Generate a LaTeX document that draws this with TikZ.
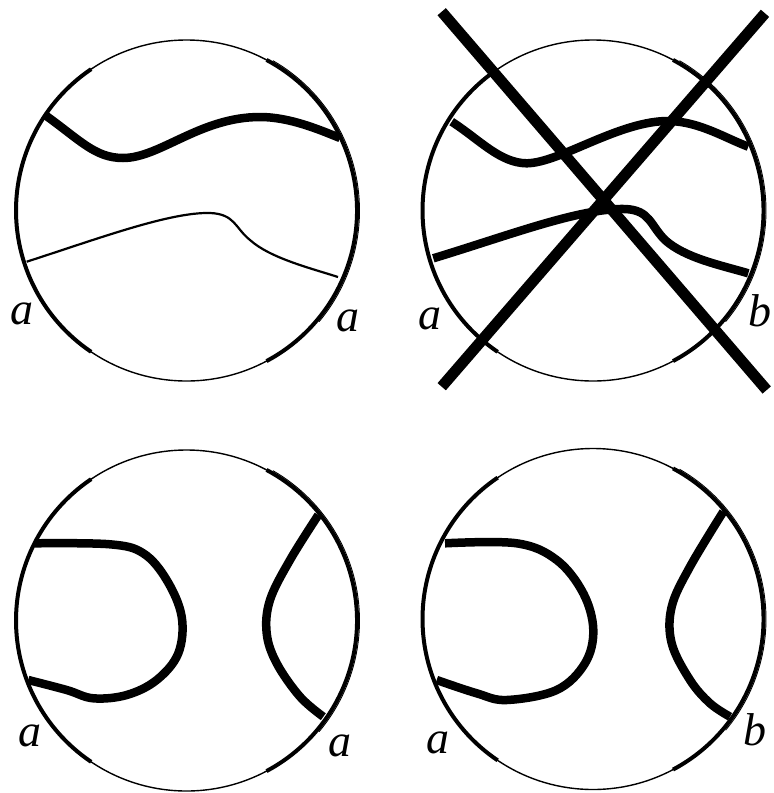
\documentclass[tikz,border=0pt]{standalone}
\usepackage{fontspec}
\setmainfont{Liberation Serif}
\begin{document}
\begin{tikzpicture}[x=1pt,y=-1pt,
  rim/.style={line width=1.4pt},
  rimthick/.style={line width=4pt},
  rimdouble/.style={line width=0.9pt},
  strand/.style={line width=8.5pt},
  thinstrand/.style={line width=2.2pt},
  cross/.style={line width=11pt},
  lbl/.style={font=\fontsize{46}{50}\selectfont\itshape,inner sep=0pt}]
\useasboundingbox (0,0) rectangle (774,793);
% centres
\coordinate (c1) at (186.5,210.5);
\coordinate (c2) at (593,210.5);
\coordinate (c3) at (186.5,620.5);
\coordinate (c4) at (593,619);
% rims
\foreach \c in {c1,c2,c3,c4}{
  \draw[rim] (\c) circle[radius=170.5];
  \draw[rimthick] ([shift={(124:170.5)}]\c) arc[start angle=124,end angle=236,radius=170.5];
  \draw[rimthick] ([shift={(-62:170.5)}]\c) arc[start angle=-62,end angle=62,radius=170.5];
  \draw[rimdouble] ([shift={(-60:173)}]\c) arc[start angle=-60,end angle=40,radius=173];
}
% circle 1
\draw[strand] (45,115) .. controls (80,140) and (95,158) .. (123,158)
  .. controls (160,158) and (200,117) .. (260,117)
  .. controls (290,117) and (320,130) .. (340,138);
\draw[thinstrand] (26.7,261.7) .. controls (100,238) and (170,212) .. (210,213)
  .. controls (235,214) and (235,228) .. (250,240)
  .. controls (270,258) and (310,268) .. (338,277);
\node[lbl] (l1a) at (21.7,314) {a};
\node[lbl] (l1b) at (348,321) {a};
% circle 2
\draw[strand] (451.7,121.7) .. controls (480,140) and (500,163) .. (526.7,163.3)
  .. controls (560,163) and (620,120) .. (670,121)
  .. controls (700,122) and (725,138) .. (748.3,146.7);
\draw[strand] (433.3,258.3) .. controls (510,235) and (580,208) .. (625,209)
  .. controls (650,210) and (650,225) .. (665,240)
  .. controls (685,258) and (720,265) .. (748.3,273.3);
\coordinate (x1s) at (441.7,11.7);
\coordinate (x1e) at (766.7,390);
\coordinate (x2s) at (765,13.3);
\coordinate (x2e) at (441.7,386.7);
\draw[cross] (x1s) -- (x1e);
\draw[cross] (x2s) -- (x2e);
\node[lbl] (l2a) at (430,319) {a};
\node[lbl] (l2b) at (760,311) {b};
% circle 3
\draw[strand] plot[smooth,tension=0.6] coordinates {(35,543.3) (110,544.3) (143.3,553.3) (166.7,580) (181.7,616.7) (178.3,653.3) (156.7,680) (126.7,695) (93.3,698.3) (66.7,690) (28.3,680)};
\draw[strand] plot[smooth,tension=0.6] coordinates {(318.3,515) (290,560) (270,600) (266.7,633.3) (276.7,663.3) (300,696.7) (323.3,716.7)};
\node[lbl] (l3a) at (30,736) {a};
\node[lbl] (l3b) at (340,746) {a};
% circle 4
\draw[strand] plot[smooth,tension=0.6] coordinates {(445,543.3) (516.7,543.3) (556.7,560) (583.3,593.3) (593.3,630) (585,663.3) (556.7,690) (506.7,700) (476.7,693.3) (436.7,680)};
\draw[strand] plot[smooth,tension=0.6] coordinates {(723.3,511.7) (690,566.7) (671.7,606.7) (671.7,643.3) (690,680) (710,703.3) (730,716.7)};
\node[lbl] (l4a) at (438.3,743) {a};
\node[lbl] (l4b) at (755,730) {b};
\end{tikzpicture}
\end{document}
